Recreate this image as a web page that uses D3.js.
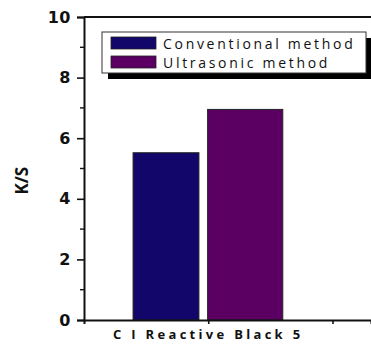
<!DOCTYPE html>
<html>
<head>
<meta charset="utf-8">
<script src="https://cdn.jsdelivr.net/npm/d3@7"></script>
<style>
  html, body { margin: 0; padding: 0; background: #fff; }
  svg { display: block; font-family: "Open Sans", "Liberation Sans", sans-serif; }
</style>
</head>
<body>
<svg id="chart" width="371" height="345"></svg>
<script>
// K/S values
const series = ['Conventional method', 'Ultrasonic method'];
const values = [5.52, 6.95];
const category = 'C I Reactive Black 5';
const yTicks = [0, 2, 4, 6, 8, 10];
const yMinor = [1, 3, 5, 7, 9];
const colors = ['#12066a', '#5b0062'];

const svg = d3.select('#chart');
const M = { l: 84, t: 17 };
const W = 371;

const y = d3.scaleLinear().domain([0, 10]).range([320, M.t]);
// x as continuous position, the category sits at 1
const x = d3.scaleLinear().domain([0, 2.31]).range([M.l, W]);

// bar spans in x units (left, right)
const spans = [[0.395, 0.925], [0.995, 1.6]];

svg.append('g').selectAll('rect').data(values).join('rect')
  .attr('x', (d, i) => x(spans[i][0]))
  .attr('width', (d, i) => x(spans[i][1]) - x(spans[i][0]))
  .attr('y', d => y(d))
  .attr('height', d => y(0) - y(d))
  .attr('fill', (d, i) => colors[i])
  .attr('stroke', '#222')
  .attr('stroke-width', 1);

// frame: top line
svg.append('line').attr('x1', M.l).attr('x2', W).attr('y1', y(10)).attr('y2', y(10))
  .attr('stroke', '#111').attr('stroke-width', 2);

const yAxis = d3.axisLeft(y).tickValues(yTicks).tickSize(7).tickFormat(d3.format('d'));
const gy = svg.append('g').attr('transform', `translate(${M.l},0)`).call(yAxis);
gy.select('.domain').attr('stroke', '#111').attr('stroke-width', 2);
gy.selectAll('.tick line').attr('stroke', '#111').attr('stroke-width', 1.6);
gy.selectAll('.tick text').attr('font-size', 16).attr('font-weight', 'bold')
  .attr('font-family', '"DejaVu Sans", sans-serif').attr('letter-spacing', 0.5)
  .attr('fill', '#111').attr('x', -13);

svg.append('g').selectAll('line').data(yMinor).join('line')
  .attr('x1', M.l - 4).attr('x2', M.l).attr('y1', d => y(d)).attr('y2', d => y(d))
  .attr('stroke', '#111').attr('stroke-width', 1.4);

const xAxis = d3.axisBottom(x).tickValues([1, 2]).tickSize(4).tickFormat('');
const gx = svg.append('g').attr('transform', `translate(0,${y(0)})`).call(xAxis);
gx.select('.domain').attr('stroke', '#111').attr('stroke-width', 2);
gx.selectAll('.tick line').attr('stroke', '#111').attr('stroke-width', 1.6);

svg.append('text').attr('x', x(1)).attr('y', 339)
  .attr('text-anchor', 'middle').attr('font-size', 13).attr('font-weight', 'bold')
  .attr('letter-spacing', 3.3).attr('fill', '#111').text(category);

svg.append('text')
  .attr('transform', `translate(28,${y(4.6)}) rotate(-90)`)
  .attr('text-anchor', 'middle').attr('font-size', 17).attr('font-weight', 'bold')
  .attr('fill', '#111').text('K/S');

// legend with drop shadow
const lg = svg.append('g');
lg.append('rect').attr('x', 108).attr('y', 38).attr('width', 263).attr('height', 41).attr('fill', '#000');
lg.append('rect').attr('x', 102).attr('y', 32).attr('width', 264).attr('height', 41)
  .attr('fill', '#fff').attr('stroke', '#333').attr('stroke-width', 1);
const items = lg.selectAll('g.item').data(series).join('g')
  .attr('transform', (d, i) => `translate(111,${37 + i * 19})`);
items.append('rect').attr('width', 45).attr('height', 12)
  .attr('fill', (d, i) => colors[i]).attr('stroke', '#222').attr('stroke-width', 0.8);
items.append('text').attr('x', 52).attr('y', 11.5)
  .attr('font-size', 14).attr('letter-spacing', 2.7).attr('fill', '#111').text(d => d);
</script>
</body>
</html>
